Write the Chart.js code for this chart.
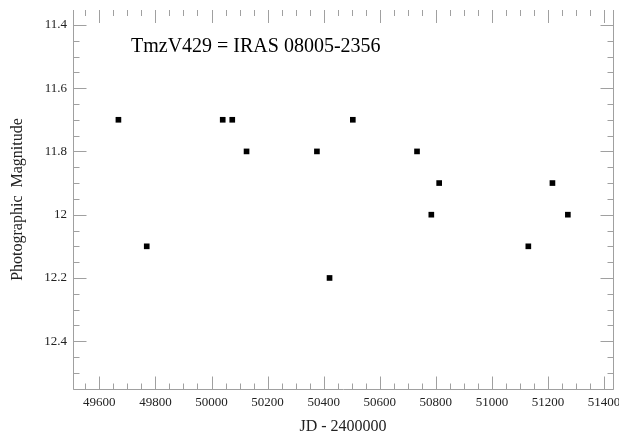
<!DOCTYPE html>
<html>
<head>
<meta charset="utf-8">
<script src="https://cdn.jsdelivr.net/npm/chart.js@4/dist/chart.umd.min.js"></script>
<style>
  html, body { margin: 0; padding: 0; background: #fff; }
  #wrap { width: 619px; height: 436px; }
</style>
</head>
<body>
<div id="wrap"><canvas id="lightCurve"></canvas></div>
<script>
var jd = [49668, 49769, 50040, 50074, 50125, 50376, 50421, 50504, 50733, 50784, 50812, 51130, 51216, 51271];
var mag = [11.7, 12.1, 11.7, 11.7, 11.8, 11.8, 12.2, 11.7, 11.8, 12.0, 11.9, 12.1, 11.9, 12.0];

var xTicks = [49600, 49800, 50000, 50200, 50400, 50600, 50800, 51000, 51200, 51400];
var xTickLabels = ['49600', '49800', '50000', '50200', '50400', '50600', '50800', '51000', '51200', '51400'];
var yTicks = [11.4, 11.6, 11.8, 12.0, 12.2, 12.4];
var yTickLabels = ['11.4', '11.6', '11.8', '12', '12.2', '12.4'];

var chartTitle = 'TmzV429 = IRAS 08005-2356';
var serifFont = '"Liberation Serif", "Times New Roman", serif';
var axisGray = '#a0a0a0';

Chart.defaults.font.family = serifFont;

// frame with inward ticks on all sides (no top line), plus the title inside the plot
var framePlugin = {
  id: 'frame',
  afterDraw: function(chart) {
    var ctx = chart.ctx;
    var a = chart.chartArea;
    var x = chart.scales.x;
    var y = chart.scales.y;
    var L = a.left + 0.5, R = a.right + 0.5, B = a.bottom + 0.5, T = a.top;

    ctx.save();
    ctx.strokeStyle = axisGray;
    ctx.lineWidth = 1;
    ctx.beginPath();
    ctx.moveTo(L, T);
    ctx.lineTo(L, B);
    ctx.lineTo(R, B);
    ctx.lineTo(R, T);

    // x ticks every 50, major every 200
    for (var k = Math.ceil(x.min / 50); k * 50 <= x.max; k++) {
      var px = Math.round(x.getPixelForValue(k * 50)) + 0.5;
      var len = (k % 4 === 0) ? 13 : 6;
      ctx.moveTo(px, B);
      ctx.lineTo(px, B - len);
      ctx.moveTo(px, T);
      ctx.lineTo(px, T + len);
    }
    // y ticks every 0.05, major every 0.2
    for (var j = Math.ceil(y.min * 20 - 1e-6); j <= Math.floor(y.max * 20 + 1e-6); j++) {
      var py = Math.round(y.getPixelForValue(j / 20)) + 0.5;
      var ylen = (j % 4 === 0) ? 13 : 6;
      ctx.moveTo(L, py);
      ctx.lineTo(L + ylen, py);
      ctx.moveTo(R, py);
      ctx.lineTo(R - ylen, py);
    }
    ctx.stroke();

    ctx.fillStyle = '#000';
    ctx.font = '20px ' + serifFont;
    ctx.textAlign = 'left';
    ctx.textBaseline = 'alphabetic';
    ctx.fillText(chartTitle, 131, 52);
    ctx.restore();
  }
};

var ctx = document.getElementById('lightCurve').getContext('2d');
var points = jd.map(function(v, i) { return { x: v, y: mag[i] }; });

var lightCurve = new Chart(ctx, {
  type: 'scatter',
  data: {
    datasets: [{
      label: 'TmzV429',
      data: points,
      pointStyle: 'rect',
      pointRadius: 4,
      pointHoverRadius: 4,
      pointBorderWidth: 0,
      backgroundColor: '#000',
      borderColor: '#000'
    }]
  },
  options: {
    responsive: true,
    maintainAspectRatio: false,
    animation: false,
    layout: { padding: { top: 10, right: 6, left: 0, bottom: 0 } },
    plugins: {
      legend: { display: false },
      tooltip: { enabled: false }
    },
    scales: {
      x: {
        type: 'linear',
        min: 49506,
        max: 51432,
        grid: { display: false, drawTicks: false },
        border: { display: false },
        afterBuildTicks: function(scale) {
          scale.ticks = xTicks.map(function(v) { return { value: v }; });
        },
        afterFit: function(scale) {
          scale.height = 47;
          scale.paddingLeft = 0;
          scale.paddingRight = 0;
        },
        ticks: {
          padding: 6,
          color: '#222',
          font: { family: serifFont, size: 13 },
          maxRotation: 0,
          autoSkip: false,
          callback: function(value) {
            var i = xTicks.indexOf(value);
            return i >= 0 ? xTickLabels[i] : '';
          }
        },
        title: {
          display: true,
          text: 'JD - 2400000',
          color: '#222',
          font: { family: serifFont, size: 16 },
          padding: { top: 0, bottom: 0 }
        }
      },
      y: {
        type: 'linear',
        reverse: true,
        min: 11.353,
        max: 12.551,
        grid: { display: false, drawTicks: false },
        border: { display: false },
        afterBuildTicks: function(scale) {
          scale.ticks = yTicks.map(function(v) { return { value: v }; });
        },
        afterFit: function(scale) {
          scale.width = 73;
          scale.paddingTop = 0;
          scale.paddingBottom = 0;
        },
        ticks: {
          padding: 6,
          color: '#222',
          font: { family: serifFont, size: 13 },
          autoSkip: false,
          callback: function(value) {
            for (var i = 0; i < yTicks.length; i++) {
              if (Math.abs(yTicks[i] - value) < 1e-6) return yTickLabels[i];
            }
            return '';
          }
        },
        title: {
          display: true,
          text: 'Photographic  Magnitude',
          color: '#222',
          font: { family: serifFont, size: 16 },
          padding: { top: 8, bottom: 0 }
        }
      }
    }
  },
  plugins: [framePlugin]
});
</script>
</body>
</html>
